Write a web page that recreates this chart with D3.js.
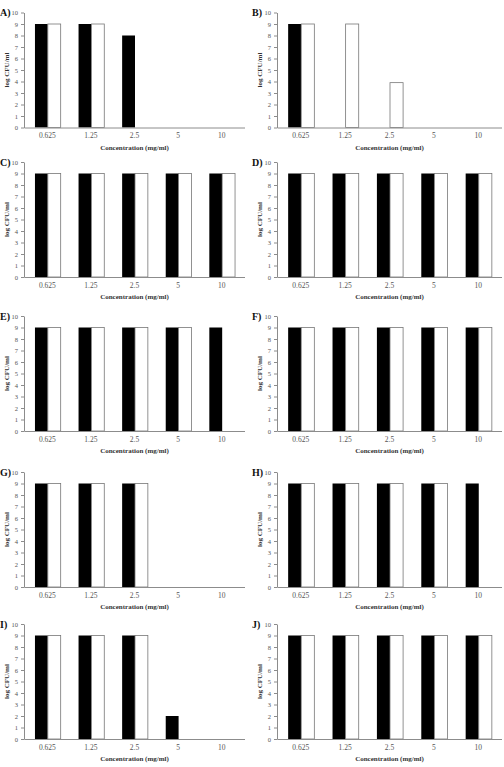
<!DOCTYPE html>
<html>
<head>
<meta charset="utf-8">
<script src="https://cdnjs.cloudflare.com/ajax/libs/d3/7.8.5/d3.min.js"></script>
<style>
body { margin: 0; background: #fff; }
.axis path, .axis line { stroke: #8c8c8c; stroke-width: 1; }
.axis text { fill: #555; font-family: "Liberation Serif", serif; font-size: 6.5px; }
.axis--x text { font-size: 7.5px; }
.axis-title { fill: #333; font-family: "Liberation Serif", serif; font-size: 7px; font-weight: bold; }
.panel-label { fill: #111; font-family: "Liberation Serif", serif; font-size: 10px; font-weight: bold; }
.bar-black { fill: #000; }
.bar-white { fill: #fff; stroke: #777; stroke-width: 0.8; }
</style>
</head>
<body>
<div id="chart"></div>
<script>
// concentrations on the x axis
var categories = ["0.625", "1.25", "2.5", "5", "10"]
var yTicks = [0, 1, 2, 3, 4, 5, 6, 7, 8, 9, 10]
var panelLabels = ["A)", "B)", "C)", "D)", "E)", "F)", "G)", "H)", "I)", "J)"]

// log CFU/ml, black bars (first series), one row per panel
var blackBars = [
    [9, 9, 8, 0, 0],
    [9, 0, 0, 0, 0],
    [9, 9, 9, 9, 9],
    [9, 9, 9, 9, 9],
    [9, 9, 9, 9, 9],
    [9, 9, 9, 9, 9],
    [9, 9, 9, 0, 0],
    [9, 9, 9, 9, 9],
    [9, 9, 9, 2, 0],
    [9, 9, 9, 9, 9]
]

// log CFU/ml, white bars (second series)
var whiteBars = [
    [9, 9, 0, 0, 0],
    [9, 9, 3.9, 0, 0],
    [9, 9, 9, 9, 9],
    [9, 9, 9, 9, 9],
    [9, 9, 9, 9, 0],
    [9, 9, 9, 9, 9],
    [9, 9, 9, 0, 0],
    [9, 9, 9, 9, 0],
    [9, 9, 9, 0, 0],
    [9, 9, 9, 9, 9]
]

var svgWidth = 504,
    svgHeight = 767

var rowTops = [12.5, 162, 316, 472, 624]
var plotHeight = 115
var cols = [
    {left: 24, width: 221, labelX: 0},
    {left: 277, width: 225, labelX: 252}
]

var svg = d3.select("#chart")
    .append("svg")
        .attr("width", svgWidth)
        .attr("height", svgHeight)

function drawPanel(i){
    var col = cols[i % 2],
        top = rowTops[Math.floor(i / 2)],
        width = col.width,
        height = plotHeight

    var g = svg.append("g")
        .attr("transform", "translate(" + col.left + "," + top + ")")

    var x0 = d3.scaleBand()
        .domain(categories)
        .range([0, width])
        .paddingInner(0.41)
        .paddingOuter(0.24)

    var x1 = d3.scaleBand()
        .domain(["black", "white"])
        .range([0, x0.bandwidth()])

    var y = d3.scaleLinear()
        .domain([0, 10])
        .range([height, 0])

    var rows = categories.map(function(c, j){
        return {cat: c, black: blackBars[i][j], white: whiteBars[i][j]}
    })

    var bars = []
    rows.forEach(function(d){
        if (d.black > 0) bars.push({cat: d.cat, key: "black", val: d.black})
        if (d.white > 0) bars.push({cat: d.cat, key: "white", val: d.white})
    })

    g.selectAll(".bar")
        .data(bars)
        .enter()
        .append("rect")
        .attr("class", d => "bar bar-" + d.key)
        .attr("x", d => x0(d.cat) + x1(d.key) + 0.5)
        .attr("y", d => y(d.val))
        .attr("width", x1.bandwidth())
        .attr("height", d => y(0) - y(d.val))

    g.append("g")
        .attr("class", "axis axis--y")
        .call(d3.axisLeft(y).tickValues(yTicks).tickSize(3).tickSizeOuter(0).tickPadding(3))

    var xAxis = g.append("g")
        .attr("class", "axis axis--x")
        .attr("transform", "translate(0," + height + ")")
        .call(d3.axisBottom(x0).tickSize(0).tickPadding(5.5))
    xAxis.select(".domain").attr("d", "M0.5,0.5H" + width)

    g.append("text")
        .attr("class", "axis-title")
        .attr("x", width / 2)
        .attr("y", height + 22)
        .attr("text-anchor", "middle")
        .text("Concentration (mg/ml)")

    g.append("text")
        .attr("class", "axis-title")
        .attr("transform", "rotate(-90)")
        .attr("x", -height / 2)
        .attr("y", -15.5)
        .attr("text-anchor", "middle")
        .text("log CFU/ml")

    g.append("text")
        .attr("class", "panel-label")
        .attr("x", col.labelX - col.left)
        .attr("y", 3.5)
        .text(panelLabels[i])
}

for (var i = 0; i < panelLabels.length; i++){
    drawPanel(i)
}
</script>
</body>
</html>
